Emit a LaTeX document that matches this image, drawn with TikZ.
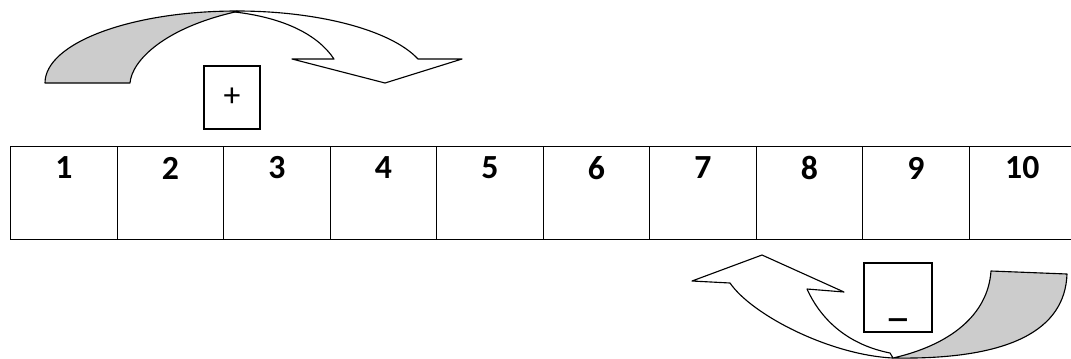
\documentclass[tikz,border=0pt]{standalone}
\usepackage{fontspec}
\setmainfont{Carlito}
\usetikzlibrary{positioning}

\tikzset{
    cell/.style={draw, rectangle, line width=0.8pt, anchor=north west, inner sep=0pt,
        minimum width=2.6625cm, minimum height=2.325cm},
    num/.style={font=\fontsize{24}{28}\selectfont\bfseries, inner sep=0pt},
    opbox/.style={draw, rectangle, line width=0.8pt, inner sep=0pt},
    band/.style={draw, line width=0.8pt, line join=round, fill=gray!40},
    front/.style={draw, line width=0.8pt, line join=round, fill=white}
}

\begin{document}
\begin{tikzpicture}[x=0.025cm, y=0.025cm]

    \useasboundingbox (0,0) rectangle (1071,-358);

    % Row of numbered cells
    \foreach \i in {1,...,10} {
        \node[cell] (c\i) at ({10+106.5*(\i-1)}, -146) {};
        \node[num] (n\i) at ([yshift=-0.55cm]c\i.north) {\i};
    }

    % Plus sign box
    \node[opbox, minimum width=1.4cm, minimum height=1.575cm, font=\fontsize{24}{28}\selectfont] (plus) at (232,-97.5) {+};

    % Minus sign box
    \node[opbox, minimum width=1.7cm, minimum height=1.725cm] (minus) at (898,-297.5) {};
    \node[inner sep=0pt, font=\fontsize{26}{28}\selectfont\bfseries] (minussign) at ([yshift=0.35cm]minus.south) {\_};

    % Curved arrow to the right (back band)
    \draw[band] (45,-83) .. controls (45,-43) and (131,-11) .. (237,-11)
        -- (235,-12) .. controls (165,-28) and (132,-60) .. (130,-83) -- cycle;

    % Curved arrow to the right (front band and head)
    \draw[front] (237,-11) .. controls (318,-11) and (391,-30) .. (418,-59)
        -- (462,-59) -- (385,-83) -- (292,-59) -- (334,-59)
        .. controls (318,-35) and (285,-18) .. (235,-12) -- cycle;

    % Curved arrow to the left (back band)
    \draw[band] (991,-271) -- (1067,-274) .. controls (1065,-330) and (1010,-360) .. (893,-358)
        .. controls (950,-345) and (988,-315) .. (991,-271) -- cycle;

    % Curved arrow to the left (front band and head)
    \draw[front] (893,-358) .. controls (830,-355) and (752,-315) .. (730,-283)
        -- (692,-281) -- (762,-255) -- (844,-292) -- (807,-289)
        .. controls (822,-322) and (850,-345) .. (890,-353) -- cycle;

\end{tikzpicture}
\end{document}
